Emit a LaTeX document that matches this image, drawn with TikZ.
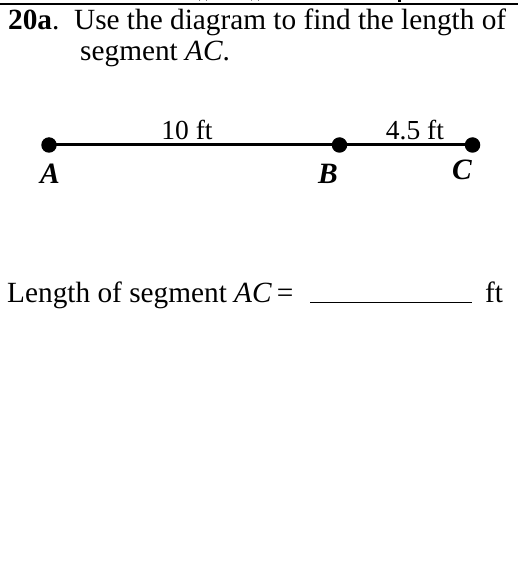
\documentclass[tikz,border=0pt]{standalone}
\usepackage{fontspec}
\setmainfont{Liberation Serif}
\begin{document}
\begin{tikzpicture}[x=1pt,y=-1pt,
  txt/.style={inner sep=0pt, anchor=base west, font=\fontsize{29.3}{34}\selectfont},
  lbl/.style={inner sep=0pt, anchor=base, font=\fontsize{27.5}{32}\selectfont},
  ptlbl/.style={inner sep=0pt, anchor=base, font=\fontsize{29.5}{34}\selectfont\bfseries\itshape},
  dot/.style={circle, fill=black, inner sep=0pt, minimum size=15.5pt},
  seg/.style={line width=3pt}]
\useasboundingbox (0,0) rectangle (524,577);
% top rule and clipped descender remnants
\coordinate (r1) at (0,3.7);
\coordinate (r2) at (518,3.7);
\draw[line width=2pt] (r1) -- (r2);
\draw[line width=1.6pt] (199,0) arc (180:360:4 and 1.6);
\draw[line width=1.6pt] (251,0) arc (180:360:4 and 1.6);
\fill (397.5,0) rectangle (400.5,2.5);
% heading
\node[txt] (h1) at (8,29.5) {\textbf{20a}.\ \ Use the diagram to find the length of};
\node[txt] (h2) at (80,61) {segment \textit{AC}.};
% segment
\node[dot] (A) at (49,145) {};
\node[dot] (B) at (339.5,145) {};
\node[dot] (C) at (472.5,145) {};
\draw[seg] (A.center) -- (B.center) -- (C.center);
\node[lbl] (l1) at (187,140) {10 ft};
\node[lbl] (l2) at (415,140) {4.5 ft};
\node[ptlbl] (la) at (50,183) {A};
\node[ptlbl] (lb) at (328,183) {B};
\node[ptlbl] (lc) at (462,179) {C};
% answer line
\node[txt] (ans) at (7,302) {Length of segment \textit{AC}\,=};
\coordinate (u1) at (310,302.5);
\coordinate (u2) at (472,302.5);
\draw[line width=1.4pt] (u1) -- (u2);
\node[txt] (ft) at (485,302) {ft};
\end{tikzpicture}
\end{document}
